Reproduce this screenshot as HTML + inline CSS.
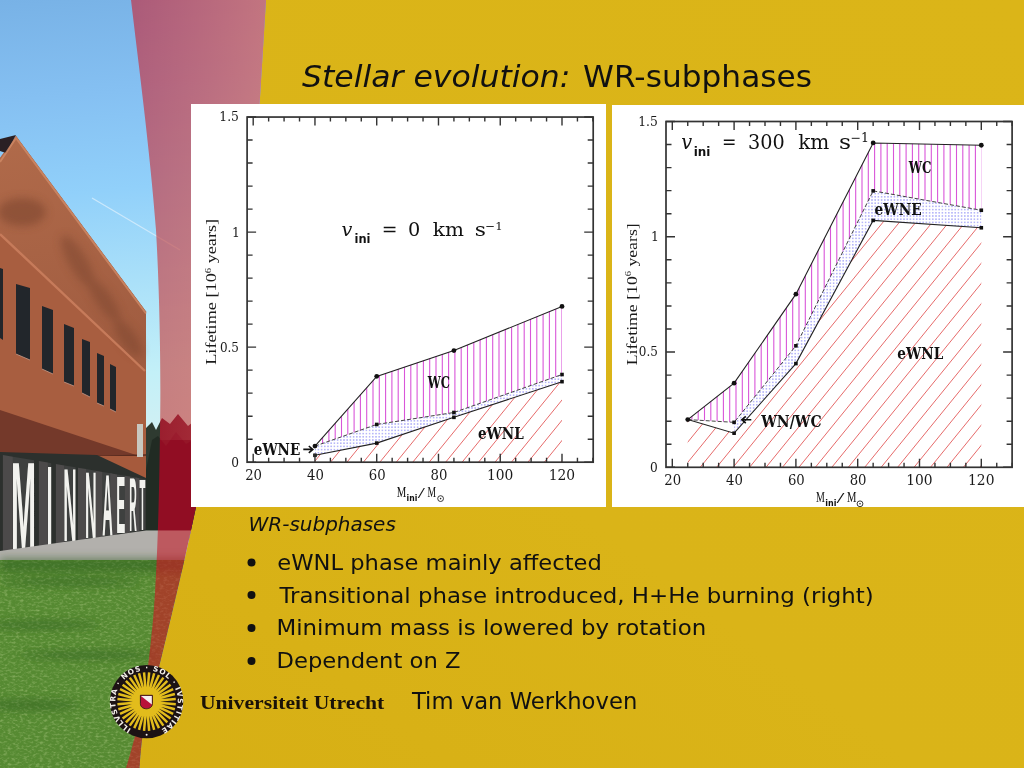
<!DOCTYPE html>
<html><head><meta charset="utf-8"><style>
html,body{margin:0;padding:0;background:#dab418;}
body{width:1024px;height:768px;overflow:hidden;position:relative;}
svg{position:absolute;left:0;top:0;}
.tl{font-family:"Liberation Serif",serif;font-size:13px;fill:#222;}
</style></head><body>
<svg width="1024" height="768" viewBox="0 0 1024 768">
<defs>
  <linearGradient id="bg" x1="0" y1="1" x2="1" y2="0">
    <stop offset="0" stop-color="#d6ae14"/><stop offset="0.45" stop-color="#dab418"/><stop offset="1" stop-color="#dbb518"/>
  </linearGradient>
  <linearGradient id="sky" gradientUnits="userSpaceOnUse" x1="0" y1="0" x2="40" y2="440">
    <stop offset="0" stop-color="#78b2e6"/><stop offset="0.23" stop-color="#85c0f2"/><stop offset="0.45" stop-color="#91d0fa"/><stop offset="0.87" stop-color="#c3f0f8"/><stop offset="1" stop-color="#d0f0f4"/>
  </linearGradient>
  <linearGradient id="facade" gradientUnits="userSpaceOnUse" x1="0" y1="140" x2="40" y2="370">
    <stop offset="0" stop-color="#b06a4a"/><stop offset="1" stop-color="#a05c40"/>
  </linearGradient>
  <linearGradient id="bandsky" gradientUnits="userSpaceOnUse" x1="135" y1="0" x2="266" y2="0">
    <stop offset="0" stop-color="#f0a090" stop-opacity="0"/><stop offset="1" stop-color="#f2aa8c" stop-opacity="0.32"/>
  </linearGradient>
  <filter id="blur3" x="-20%" y="-20%" width="140%" height="140%"><feGaussianBlur stdDeviation="4"/></filter>
  <filter id="grassnoise" x="0" y="0" width="100%" height="100%">
    <feTurbulence type="fractalNoise" baseFrequency="0.25 0.5" numOctaves="2" seed="3"/>
    <feColorMatrix type="matrix" values="0 0 0 0 0.52  0 0 0 0 0.68  0 0 0 0 0.3  0 0 0 2.0 -0.9"/>
  </filter>
  <pattern id="dots" patternUnits="userSpaceOnUse" width="3.2" height="3.2">
    <rect x="1" y="1" width="1.2" height="1.2" fill="#6a6af4" opacity="0.85"/>
  </pattern>
  <clipPath id="photoclip"><path d="M0 0 L266 0 L259.6 104 L196 507 C172 620 150 700 142 740 C141 748 140.5 755 139.5 768 L0 768Z"/></clipPath>
  <clipPath id="bandclip"><path d=" M131 0 C138 60 150 150 156 230 C160 300 161 380 160 430 C159 520 156 600 151 640 C146 690 138 730 126 768 L139.5 768 C140.5 755 141 748 142 740 C150 700 172 620 196 507 L259.6 104 L266 0 Z "/></clipPath>
  <filter id="tint" color-interpolation-filters="sRGB">
    <feColorMatrix type="matrix" values="0.3 0 0 0 0.53  0 0.57 0 0 -0.045  0 0 0.44 0 0.075  0 0 0 1 0"/>
  </filter>
</defs>
<rect width="1024" height="768" fill="url(#bg)"/>
<g clip-path="url(#photoclip)">
<g id="photo">
  <rect x="0" y="0" width="280" height="768" fill="url(#sky)"/>
  <path d="M92 198 L180 250" stroke="#d8eefc" stroke-width="1.3" opacity="0.8"/>
  <!-- trees behind -->
  <path d="M140 450 L146 428 L152 422 L156 430 L162 418 L170 424 L178 414 L188 426 L198 418 L210 428 L230 420 L280 426 L280 540 L140 540Z" fill="#2e3a30"/>
  <path d="M146 470 L152 440 L158 436 L166 446 L176 432 L186 444 L200 436 L280 450 L280 530 L146 530Z" fill="#1e2820" opacity="0.8"/>
  <!-- building facade -->
  <polygon points="0,158 16,136 146,311.5 146,462 0,418" fill="#a85e40"/>
  <polygon points="0,158 16,136 146,311.5 146,371 0,233" fill="url(#facade)"/>
  <g filter="url(#blur3)" opacity="0.5">
    <ellipse cx="22" cy="212" rx="24" ry="14" fill="#74402c"/>
    <ellipse cx="78" cy="262" rx="9" ry="30" transform="rotate(-30 78 262)" fill="#7a442e"/>
    <ellipse cx="104" cy="300" rx="8" ry="26" transform="rotate(-35 104 300)" fill="#7a442e"/>
    <ellipse cx="128" cy="338" rx="8" ry="22" transform="rotate(-35 128 338)" fill="#7a442e"/>
  </g>
  <polygon points="0,139 16,135 6,153 0,151" fill="#2a2024"/>
  <path d="M0 162 L16 138 L146 313.5" stroke="#d08a66" stroke-width="2" fill="none" opacity="0.8"/>
  <path d="M0 234 L145 371" stroke="#cc8060" stroke-width="2.4" opacity="0.85"/>
  <!-- windows -->
  <g fill="#22262b">
    <polygon points="16,284 30,288 30,360 16,354"/>
    <polygon points="42,306 53,310 53,374 42,369"/>
    <polygon points="64,324 74,328 74,386 64,382"/>
    <polygon points="82,339 90,342 90,397 82,393"/>
    <polygon points="97,353 104,356 104,406 97,403"/>
    <polygon points="110,364 116,367 116,412 110,409"/>
    <polygon points="0,268 3,269 3,340 0,338"/>
  </g>
  <g stroke="#c89a88" stroke-width="1" opacity="0.8">
    <path d="M16 354 L30 360 M42 369 L53 374 M64 382 L74 386 M82 393 L90 397 M97 403 L104 406 M110 409 L116 412"/>
  </g>
  <!-- soffit -->
  <polygon points="0,410 136,455 120,458 97,459 0,457" fill="#74392a"/>
  <path d="M97 456.5 L146 455" stroke="#5a2c20" stroke-width="1.5"/>
  <polygon points="97,456 146,456 146,481 97,473" fill="#a65a3c"/>
  <rect x="137" y="424" width="6" height="33" fill="#c8c8c0"/>
  <!-- columns area -->
  <polygon points="0,452 97,455 146,478 146,532 0,554" fill="#2c302d"/>

  <polygon points="12.9,456.7 34.0,460.3 34.0,547.0 12.9,550.4" fill="#3e403f"/>
<polygon points="2.9,455.0 12.9,456.7 12.9,550.9 2.9,552.9" fill="#4c4a4a"/>
<polygon points="47.9,462.6 51.2,463.2 51.2,544.3 47.9,544.8" fill="#3e403f"/>
<polygon points="38.9,461.1 47.9,462.6 47.9,545.3 38.9,547.2" fill="#4c4a4a"/>
<polygon points="64.4,465.4 75.6,467.3 75.6,540.5 64.4,542.2" fill="#3e403f"/>
<polygon points="55.9,464.0 64.4,465.4 64.4,542.7 55.9,544.6" fill="#4c4a4a"/>
<polygon points="86.0,469.1 95.7,470.8 95.7,537.3 86.0,538.8" fill="#3e403f"/>
<polygon points="78.0,467.8 86.0,469.1 86.0,539.3 78.0,541.1" fill="#4c4a4a"/>
<polygon points="102.5,471.9 112.3,473.6 112.3,534.7 102.5,536.2" fill="#3e403f"/>
<polygon points="95.5,470.7 102.5,471.9 102.5,536.7 95.5,538.3" fill="#4c4a4a"/>
<polygon points="117.2,474.4 125.0,475.7 125.0,532.6 117.2,533.9" fill="#3e403f"/>
<polygon points="110.2,473.2 117.2,474.4 117.2,534.4 110.2,536.0" fill="#4c4a4a"/>
<polygon points="130.0,476.6 136.7,477.7 136.7,530.8 130.0,531.9" fill="#3e403f"/>
<polygon points="125.0,475.7 130.0,476.6 130.0,532.4 125.0,533.6" fill="#4c4a4a"/>
<polygon points="139.6,478.2 145.5,479.2 145.5,529.4 139.6,530.3" fill="#3e403f"/>
<polygon points="135.6,477.5 139.6,478.2 139.6,530.8 135.6,532.0" fill="#4c4a4a"/>
<text x="10.98" y="548.69" font-family="'Liberation Sans',sans-serif" font-weight="bold" font-size="125.1" fill="#f2f2ee" textLength="24.99" lengthAdjust="spacingAndGlyphs">M</text>
<text x="46.54" y="544.57" font-family="'Liberation Sans',sans-serif" font-weight="bold" font-size="113.5" fill="#f2f2ee" textLength="6.12" lengthAdjust="spacingAndGlyphs">I</text>
<text x="63.33" y="541.34" font-family="'Liberation Sans',sans-serif" font-weight="bold" font-size="104.4" fill="#f2f2ee" textLength="13.40" lengthAdjust="spacingAndGlyphs">N</text>
<text x="84.98" y="538.04" font-family="'Liberation Sans',sans-serif" font-weight="bold" font-size="95.1" fill="#f2f2ee" textLength="11.68" lengthAdjust="spacingAndGlyphs">N</text>
<text x="102.17" y="535.43" font-family="'Liberation Sans',sans-serif" font-weight="bold" font-size="87.7" fill="#f2f2ee" textLength="10.52" lengthAdjust="spacingAndGlyphs">A</text>
<text x="116.37" y="533.26" font-family="'Liberation Sans',sans-serif" font-weight="bold" font-size="81.6" fill="#f2f2ee" textLength="9.03" lengthAdjust="spacingAndGlyphs">E</text>
<text x="129.32" y="531.33" font-family="'Liberation Sans',sans-serif" font-weight="bold" font-size="76.1" fill="#f2f2ee" textLength="7.52" lengthAdjust="spacingAndGlyphs">R</text>
<text x="139.60" y="529.87" font-family="'Liberation Sans',sans-serif" font-weight="bold" font-size="72.0" fill="#f2f2ee" textLength="5.90" lengthAdjust="spacingAndGlyphs">T</text>
  <!-- pavement -->
  <polygon points="0,551 146,530.5 280,530.5 280,562 0,562" fill="#b2b0ac"/>
  <!-- grass -->
  <rect x="0" y="560" width="280" height="208" fill="#568a32"/>
  <rect x="0" y="560" width="280" height="208" filter="url(#grassnoise)" opacity="0.5"/>
  <g filter="url(#blur3)" opacity="0.5" fill="#2c5a1c">
    <rect x="0" y="558" width="280" height="14"/>
    <ellipse cx="70" cy="582" rx="70" ry="4"/>
    <ellipse cx="40" cy="625" rx="60" ry="4"/>
    <ellipse cx="90" cy="655" rx="70" ry="4"/>
    <ellipse cx="30" cy="705" rx="50" ry="5"/>
  </g>
</g>
</g>
<g clip-path="url(#bandclip)"><use href="#photo" filter="url(#tint)"/><rect x="120" y="0" width="150" height="440" fill="url(#bandsky)"/></g>
<!-- chart panels -->
<rect x="191" y="104" width="415" height="403" fill="#fff"/>
<rect x="612" y="105" width="412" height="402" fill="#fff"/>
<defs>
<clipPath id="L_wc"><polygon points="314.96,446.09 376.72,376.37 453.92,350.6 562,306.42 562,374.53 453.92,412.5 376.72,424.46 314.96,446.09"/></clipPath>
<clipPath id="L_ne"><polygon points="314.96,446.09 376.72,424.46 453.92,412.5 562,374.53 562,381.66 453.92,417.33 376.72,443.1 314.96,455.3"/></clipPath>
<clipPath id="L_nl"><polygon points="314.96,455.3 376.72,443.1 453.92,417.33 562,381.66 562,462.2 314.96,462.2"/></clipPath>
</defs>
<polygon points="314.96,446.09 376.72,424.46 453.92,412.5 562,374.53 562,381.66 453.92,417.33 376.72,443.1 314.96,455.3" fill="url(#dots)" />
<path d="M310 117.05V462.2M316.3 117.05V462.2M322.6 117.05V462.2M328.9 117.05V462.2M335.2 117.05V462.2M341.5 117.05V462.2M347.8 117.05V462.2M354.1 117.05V462.2M360.4 117.05V462.2M366.7 117.05V462.2M373 117.05V462.2M379.3 117.05V462.2M385.6 117.05V462.2M391.9 117.05V462.2M398.2 117.05V462.2M404.5 117.05V462.2M410.8 117.05V462.2M417.1 117.05V462.2M423.4 117.05V462.2M429.7 117.05V462.2M436 117.05V462.2M442.3 117.05V462.2M448.6 117.05V462.2M454.9 117.05V462.2M461.2 117.05V462.2M467.5 117.05V462.2M473.8 117.05V462.2M480.1 117.05V462.2M486.4 117.05V462.2M492.7 117.05V462.2M499 117.05V462.2M505.3 117.05V462.2M511.6 117.05V462.2M517.9 117.05V462.2M524.2 117.05V462.2M530.5 117.05V462.2M536.8 117.05V462.2M543.1 117.05V462.2M549.4 117.05V462.2M555.7 117.05V462.2M562 117.05V462.2" stroke="#d955d9" stroke-width="1.1" clip-path="url(#L_wc)"/>
<path d="M-97.2 462.2L183.41 117.05M-80.75 462.2L199.86 117.05M-64.3 462.2L216.31 117.05M-47.85 462.2L232.76 117.05M-31.4 462.2L249.21 117.05M-14.95 462.2L265.66 117.05M1.5 462.2L282.11 117.05M17.95 462.2L298.56 117.05M34.4 462.2L315.01 117.05M50.85 462.2L331.46 117.05M67.3 462.2L347.91 117.05M83.75 462.2L364.36 117.05M100.2 462.2L380.81 117.05M116.65 462.2L397.26 117.05M133.1 462.2L413.71 117.05M149.55 462.2L430.16 117.05M166 462.2L446.61 117.05M182.45 462.2L463.06 117.05M198.9 462.2L479.51 117.05M215.35 462.2L495.96 117.05M231.8 462.2L512.41 117.05M248.25 462.2L528.86 117.05M264.7 462.2L545.31 117.05M281.15 462.2L561.76 117.05M297.6 462.2L578.21 117.05M314.05 462.2L594.66 117.05M330.5 462.2L611.11 117.05M346.95 462.2L627.56 117.05M363.4 462.2L644.01 117.05M379.85 462.2L660.46 117.05M396.3 462.2L676.91 117.05M412.75 462.2L693.36 117.05M429.2 462.2L709.81 117.05M445.65 462.2L726.26 117.05M462.1 462.2L742.71 117.05M478.55 462.2L759.16 117.05M495 462.2L775.61 117.05M511.45 462.2L792.06 117.05M527.9 462.2L808.51 117.05M544.35 462.2L824.96 117.05M560.8 462.2L841.41 117.05" stroke="#e66a6a" stroke-width="1" clip-path="url(#L_nl)"/>
<polyline points="314.96,446.09 376.72,376.37 453.92,350.6 562,306.42" fill="none" stroke="#222" stroke-width="1.1"/>
<polyline points="314.96,446.09 376.72,424.46 453.92,412.5 562,374.53" fill="none" stroke="#444" stroke-width="1" stroke-dasharray="4 2"/>
<polyline points="314.96,455.3 376.72,443.1 453.92,417.33 562,381.66" fill="none" stroke="#222" stroke-width="1.1"/>
<circle cx="314.96" cy="446.09" r="2.4" fill="#111"/>
<circle cx="376.72" cy="376.37" r="2.4" fill="#111"/>
<circle cx="453.92" cy="350.6" r="2.4" fill="#111"/>
<circle cx="562" cy="306.42" r="2.4" fill="#111"/>
<rect x="374.92" y="422.66" width="3.6" height="3.6" fill="#111"/>
<rect x="452.12" y="410.7" width="3.6" height="3.6" fill="#111"/>
<rect x="560.2" y="372.73" width="3.6" height="3.6" fill="#111"/>
<rect x="313.16" y="453.5" width="3.6" height="3.6" fill="#111"/>
<rect x="374.92" y="441.3" width="3.6" height="3.6" fill="#111"/>
<rect x="452.12" y="415.53" width="3.6" height="3.6" fill="#111"/>
<rect x="560.2" y="379.86" width="3.6" height="3.6" fill="#111"/>
<rect x="247.1" y="117.05" width="346.1" height="345.15" fill="none" stroke="#333" stroke-width="1.7"/>
<path d="M253.2 462.2v-8.5M253.2 117.05v8.5M268.64 462.2v-4.5M268.64 117.05v4.5M284.08 462.2v-4.5M284.08 117.05v4.5M299.52 462.2v-4.5M299.52 117.05v4.5M314.96 462.2v-8.5M314.96 117.05v8.5M330.4 462.2v-4.5M330.4 117.05v4.5M345.84 462.2v-4.5M345.84 117.05v4.5M361.28 462.2v-4.5M361.28 117.05v4.5M376.72 462.2v-8.5M376.72 117.05v8.5M392.16 462.2v-4.5M392.16 117.05v4.5M407.6 462.2v-4.5M407.6 117.05v4.5M423.04 462.2v-4.5M423.04 117.05v4.5M438.48 462.2v-8.5M438.48 117.05v8.5M453.92 462.2v-4.5M453.92 117.05v4.5M469.36 462.2v-4.5M469.36 117.05v4.5M484.8 462.2v-4.5M484.8 117.05v4.5M500.24 462.2v-8.5M500.24 117.05v8.5M515.68 462.2v-4.5M515.68 117.05v4.5M531.12 462.2v-4.5M531.12 117.05v4.5M546.56 462.2v-4.5M546.56 117.05v4.5M562 462.2v-8.5M562 117.05v8.5M577.44 462.2v-4.5M577.44 117.05v4.5M592.88 462.2v-4.5M592.88 117.05v4.5M247.1 462.2h9M593.2 462.2h-9M247.1 439.19h5.5M593.2 439.19h-5.5M247.1 416.18h5.5M593.2 416.18h-5.5M247.1 393.17h5.5M593.2 393.17h-5.5M247.1 370.16h5.5M593.2 370.16h-5.5M247.1 347.15h9M593.2 347.15h-9M247.1 324.14h5.5M593.2 324.14h-5.5M247.1 301.13h5.5M593.2 301.13h-5.5M247.1 278.12h5.5M593.2 278.12h-5.5M247.1 255.11h5.5M593.2 255.11h-5.5M247.1 232.1h9M593.2 232.1h-9M247.1 209.09h5.5M593.2 209.09h-5.5M247.1 186.08h5.5M593.2 186.08h-5.5M247.1 163.07h5.5M593.2 163.07h-5.5M247.1 140.06h5.5M593.2 140.06h-5.5M247.1 117.05h9M593.2 117.05h-9" stroke="#333" stroke-width="1.4"/>
<text x="245.20" y="479.60" font-family="'DejaVu Serif','Liberation Serif',serif" font-weight="normal" font-style="normal" font-size="14.0" fill="#1a1a1a" textLength="16.86" lengthAdjust="spacingAndGlyphs">20</text>
<text x="306.96" y="479.60" font-family="'DejaVu Serif','Liberation Serif',serif" font-weight="normal" font-style="normal" font-size="14.0" fill="#1a1a1a" textLength="16.86" lengthAdjust="spacingAndGlyphs">40</text>
<text x="368.72" y="479.60" font-family="'DejaVu Serif','Liberation Serif',serif" font-weight="normal" font-style="normal" font-size="14.0" fill="#1a1a1a" textLength="16.86" lengthAdjust="spacingAndGlyphs">60</text>
<text x="430.48" y="479.60" font-family="'DejaVu Serif','Liberation Serif',serif" font-weight="normal" font-style="normal" font-size="14.0" fill="#1a1a1a" textLength="16.86" lengthAdjust="spacingAndGlyphs">80</text>
<text x="487.00" y="479.60" font-family="'DejaVu Serif','Liberation Serif',serif" font-weight="normal" font-style="normal" font-size="14.0" fill="#1a1a1a" textLength="26.38" lengthAdjust="spacingAndGlyphs">100</text>
<text x="548.76" y="479.60" font-family="'DejaVu Serif','Liberation Serif',serif" font-weight="normal" font-style="normal" font-size="14.0" fill="#1a1a1a" textLength="26.38" lengthAdjust="spacingAndGlyphs">120</text>
<text x="231.20" y="466.60" font-family="'DejaVu Serif','Liberation Serif',serif" font-weight="normal" font-style="normal" font-size="13.0" fill="#1a1a1a" textLength="7.75" lengthAdjust="spacingAndGlyphs">0</text>
<text x="219.90" y="351.55" font-family="'DejaVu Serif','Liberation Serif',serif" font-weight="normal" font-style="normal" font-size="13.0" fill="#1a1a1a" textLength="19.05" lengthAdjust="spacingAndGlyphs">0.5</text>
<text x="232.05" y="236.50" font-family="'DejaVu Serif','Liberation Serif',serif" font-weight="normal" font-style="normal" font-size="13.0" fill="#1a1a1a" textLength="7.86" lengthAdjust="spacingAndGlyphs">1</text>
<text x="219.35" y="121.45" font-family="'DejaVu Serif','Liberation Serif',serif" font-weight="normal" font-style="normal" font-size="13.0" fill="#1a1a1a" textLength="19.61" lengthAdjust="spacingAndGlyphs">1.5</text>
<defs>
<clipPath id="R_wc"><polygon points="687.75,419.58 734.1,383.16 795.9,294.17 873.15,142.94 981.3,145.24 981.3,210.26 873.15,190.89 795.9,345.81 734.1,422.35 687.75,419.58"/></clipPath>
<clipPath id="R_ne"><polygon points="734.1,422.35 795.9,345.81 873.15,190.89 981.3,210.26 981.3,227.78 873.15,220.4 795.9,363.56 734.1,433.18"/></clipPath>
<clipPath id="R_nl"><polygon points="687.75,419.58 734.1,433.18 795.9,363.56 873.15,220.4 981.3,227.78 981.3,467.3 687.75,467.3"/></clipPath>
</defs>
<polygon points="734.1,422.35 795.9,345.81 873.15,190.89 981.3,210.26 981.3,227.78 873.15,220.4 795.9,363.56 734.1,433.18" fill="url(#dots)" />
<path d="M685.6 121.5V467.3M691.9 121.5V467.3M698.2 121.5V467.3M704.5 121.5V467.3M710.8 121.5V467.3M717.1 121.5V467.3M723.4 121.5V467.3M729.7 121.5V467.3M736 121.5V467.3M742.3 121.5V467.3M748.6 121.5V467.3M754.9 121.5V467.3M761.2 121.5V467.3M767.5 121.5V467.3M773.8 121.5V467.3M780.1 121.5V467.3M786.4 121.5V467.3M792.7 121.5V467.3M799 121.5V467.3M805.3 121.5V467.3M811.6 121.5V467.3M817.9 121.5V467.3M824.2 121.5V467.3M830.5 121.5V467.3M836.8 121.5V467.3M843.1 121.5V467.3M849.4 121.5V467.3M855.7 121.5V467.3M862 121.5V467.3M868.3 121.5V467.3M874.6 121.5V467.3M880.9 121.5V467.3M887.2 121.5V467.3M893.5 121.5V467.3M899.8 121.5V467.3M906.1 121.5V467.3M912.4 121.5V467.3M918.7 121.5V467.3M925 121.5V467.3M931.3 121.5V467.3M937.6 121.5V467.3M943.9 121.5V467.3M950.2 121.5V467.3M956.5 121.5V467.3M962.8 121.5V467.3M969.1 121.5V467.3M975.4 121.5V467.3M981.7 121.5V467.3" stroke="#d955d9" stroke-width="1.1" clip-path="url(#R_wc)"/>
<path d="M272.5 467.3L553.64 121.5M288.95 467.3L570.09 121.5M305.4 467.3L586.54 121.5M321.85 467.3L602.99 121.5M338.3 467.3L619.44 121.5M354.75 467.3L635.89 121.5M371.2 467.3L652.34 121.5M387.65 467.3L668.79 121.5M404.1 467.3L685.24 121.5M420.55 467.3L701.69 121.5M437 467.3L718.14 121.5M453.45 467.3L734.59 121.5M469.9 467.3L751.04 121.5M486.35 467.3L767.49 121.5M502.8 467.3L783.94 121.5M519.25 467.3L800.39 121.5M535.7 467.3L816.84 121.5M552.15 467.3L833.29 121.5M568.6 467.3L849.74 121.5M585.05 467.3L866.19 121.5M601.5 467.3L882.64 121.5M617.95 467.3L899.09 121.5M634.4 467.3L915.54 121.5M650.85 467.3L931.99 121.5M667.3 467.3L948.44 121.5M683.75 467.3L964.89 121.5M700.2 467.3L981.34 121.5M716.65 467.3L997.79 121.5M733.1 467.3L1014.24 121.5M749.55 467.3L1030.69 121.5M766 467.3L1047.14 121.5M782.45 467.3L1063.59 121.5M798.9 467.3L1080.04 121.5M815.35 467.3L1096.49 121.5M831.8 467.3L1112.94 121.5M848.25 467.3L1129.39 121.5M864.7 467.3L1145.84 121.5M881.15 467.3L1162.29 121.5M897.6 467.3L1178.74 121.5M914.05 467.3L1195.19 121.5M930.5 467.3L1211.64 121.5M946.95 467.3L1228.09 121.5M963.4 467.3L1244.54 121.5M979.85 467.3L1260.99 121.5" stroke="#e66a6a" stroke-width="1" clip-path="url(#R_nl)"/>
<polyline points="687.75,419.58 734.1,383.16 795.9,294.17 873.15,142.94 981.3,145.24" fill="none" stroke="#222" stroke-width="1.1"/>
<polyline points="687.75,419.58 734.1,422.35 795.9,345.81 873.15,190.89 981.3,210.26" fill="none" stroke="#444" stroke-width="1" stroke-dasharray="4 2"/>
<polyline points="687.75,419.58 734.1,433.18 795.9,363.56 873.15,220.4 981.3,227.78" fill="none" stroke="#222" stroke-width="1.1"/>
<circle cx="687.75" cy="419.58" r="2.4" fill="#111"/>
<circle cx="734.1" cy="383.16" r="2.4" fill="#111"/>
<circle cx="795.9" cy="294.17" r="2.4" fill="#111"/>
<circle cx="873.15" cy="142.94" r="2.4" fill="#111"/>
<circle cx="981.3" cy="145.24" r="2.4" fill="#111"/>
<rect x="732.3" y="420.55" width="3.6" height="3.6" fill="#111"/>
<rect x="794.1" y="344.01" width="3.6" height="3.6" fill="#111"/>
<rect x="871.35" y="189.09" width="3.6" height="3.6" fill="#111"/>
<rect x="979.5" y="208.46" width="3.6" height="3.6" fill="#111"/>
<rect x="732.3" y="431.38" width="3.6" height="3.6" fill="#111"/>
<rect x="794.1" y="361.76" width="3.6" height="3.6" fill="#111"/>
<rect x="871.35" y="218.6" width="3.6" height="3.6" fill="#111"/>
<rect x="979.5" y="225.98" width="3.6" height="3.6" fill="#111"/>
<rect x="666" y="121.5" width="346.1" height="345.8" fill="none" stroke="#333" stroke-width="1.7"/>
<path d="M672.3 467.3v-8.5M672.3 121.5v8.5M687.75 467.3v-4.5M687.75 121.5v4.5M703.2 467.3v-4.5M703.2 121.5v4.5M718.65 467.3v-4.5M718.65 121.5v4.5M734.1 467.3v-8.5M734.1 121.5v8.5M749.55 467.3v-4.5M749.55 121.5v4.5M765 467.3v-4.5M765 121.5v4.5M780.45 467.3v-4.5M780.45 121.5v4.5M795.9 467.3v-8.5M795.9 121.5v8.5M811.35 467.3v-4.5M811.35 121.5v4.5M826.8 467.3v-4.5M826.8 121.5v4.5M842.25 467.3v-4.5M842.25 121.5v4.5M857.7 467.3v-8.5M857.7 121.5v8.5M873.15 467.3v-4.5M873.15 121.5v4.5M888.6 467.3v-4.5M888.6 121.5v4.5M904.05 467.3v-4.5M904.05 121.5v4.5M919.5 467.3v-8.5M919.5 121.5v8.5M934.95 467.3v-4.5M934.95 121.5v4.5M950.4 467.3v-4.5M950.4 121.5v4.5M965.85 467.3v-4.5M965.85 121.5v4.5M981.3 467.3v-8.5M981.3 121.5v8.5M996.75 467.3v-4.5M996.75 121.5v4.5M1012.2 467.3v-4.5M1012.2 121.5v4.5M666 467.3h9M1012.1 467.3h-9M666 444.25h5.5M1012.1 444.25h-5.5M666 421.19h5.5M1012.1 421.19h-5.5M666 398.14h5.5M1012.1 398.14h-5.5M666 375.09h5.5M1012.1 375.09h-5.5M666 352.03h9M1012.1 352.03h-9M666 328.98h5.5M1012.1 328.98h-5.5M666 305.93h5.5M1012.1 305.93h-5.5M666 282.87h5.5M1012.1 282.87h-5.5M666 259.82h5.5M1012.1 259.82h-5.5M666 236.77h9M1012.1 236.77h-9M666 213.71h5.5M1012.1 213.71h-5.5M666 190.66h5.5M1012.1 190.66h-5.5M666 167.61h5.5M1012.1 167.61h-5.5M666 144.55h5.5M1012.1 144.55h-5.5M666 121.5h9M1012.1 121.5h-9" stroke="#333" stroke-width="1.4"/>
<text x="664.30" y="484.70" font-family="'DejaVu Serif','Liberation Serif',serif" font-weight="normal" font-style="normal" font-size="14.0" fill="#1a1a1a" textLength="16.86" lengthAdjust="spacingAndGlyphs">20</text>
<text x="726.10" y="484.70" font-family="'DejaVu Serif','Liberation Serif',serif" font-weight="normal" font-style="normal" font-size="14.0" fill="#1a1a1a" textLength="16.86" lengthAdjust="spacingAndGlyphs">40</text>
<text x="787.90" y="484.70" font-family="'DejaVu Serif','Liberation Serif',serif" font-weight="normal" font-style="normal" font-size="14.0" fill="#1a1a1a" textLength="16.86" lengthAdjust="spacingAndGlyphs">60</text>
<text x="849.70" y="484.70" font-family="'DejaVu Serif','Liberation Serif',serif" font-weight="normal" font-style="normal" font-size="14.0" fill="#1a1a1a" textLength="16.86" lengthAdjust="spacingAndGlyphs">80</text>
<text x="906.26" y="484.70" font-family="'DejaVu Serif','Liberation Serif',serif" font-weight="normal" font-style="normal" font-size="14.0" fill="#1a1a1a" textLength="26.38" lengthAdjust="spacingAndGlyphs">100</text>
<text x="968.06" y="484.70" font-family="'DejaVu Serif','Liberation Serif',serif" font-weight="normal" font-style="normal" font-size="14.0" fill="#1a1a1a" textLength="26.38" lengthAdjust="spacingAndGlyphs">120</text>
<text x="650.10" y="471.70" font-family="'DejaVu Serif','Liberation Serif',serif" font-weight="normal" font-style="normal" font-size="13.0" fill="#1a1a1a" textLength="7.75" lengthAdjust="spacingAndGlyphs">0</text>
<text x="638.80" y="356.43" font-family="'DejaVu Serif','Liberation Serif',serif" font-weight="normal" font-style="normal" font-size="13.0" fill="#1a1a1a" textLength="19.05" lengthAdjust="spacingAndGlyphs">0.5</text>
<text x="650.95" y="241.17" font-family="'DejaVu Serif','Liberation Serif',serif" font-weight="normal" font-style="normal" font-size="13.0" fill="#1a1a1a" textLength="7.86" lengthAdjust="spacingAndGlyphs">1</text>
<text x="638.25" y="125.90" font-family="'DejaVu Serif','Liberation Serif',serif" font-weight="normal" font-style="normal" font-size="13.0" fill="#1a1a1a" textLength="19.61" lengthAdjust="spacingAndGlyphs">1.5</text>
<text x="427.71" y="387.60" font-family="'DejaVu Serif','Liberation Serif',serif" font-weight="bold" font-style="normal" font-size="16.3" fill="#111" textLength="22.26" lengthAdjust="spacingAndGlyphs">WC</text>
<text x="478.00" y="438.90" font-family="'DejaVu Serif','Liberation Serif',serif" font-weight="bold" font-style="normal" font-size="16.6" fill="#111" textLength="45.73" lengthAdjust="spacingAndGlyphs">eWNL</text>
<text x="253.80" y="454.80" font-family="'DejaVu Serif','Liberation Serif',serif" font-weight="bold" font-style="normal" font-size="17.2" fill="#111" textLength="46.48" lengthAdjust="spacingAndGlyphs">eWNE</text>
<text x="908.63" y="173.40" font-family="'DejaVu Serif','Liberation Serif',serif" font-weight="bold" font-style="normal" font-size="16.3" fill="#111" textLength="22.74" lengthAdjust="spacingAndGlyphs">WC</text>
<text x="874.60" y="215.40" font-family="'DejaVu Serif','Liberation Serif',serif" font-weight="bold" font-style="normal" font-size="17.5" fill="#111" textLength="47.17" lengthAdjust="spacingAndGlyphs">eWNE</text>
<text x="897.30" y="358.70" font-family="'DejaVu Serif','Liberation Serif',serif" font-weight="bold" font-style="normal" font-size="17.5" fill="#111" textLength="45.94" lengthAdjust="spacingAndGlyphs">eWNL</text>
<text x="761.17" y="426.60" font-family="'DejaVu Serif','Liberation Serif',serif" font-weight="bold" font-style="normal" font-size="16.0" fill="#111" textLength="60.47" lengthAdjust="spacingAndGlyphs">WN/WC</text>
<text x="341.40" y="236.40" font-family="'DejaVu Serif','Liberation Serif',serif" font-weight="normal" font-style="italic" font-size="19" fill="#111" textLength="10.83" lengthAdjust="spacingAndGlyphs">v</text>
<text x="354.55" y="242.50" font-family="'DejaVu Sans','Liberation Sans',sans-serif" font-weight="bold" font-style="normal" font-size="12" fill="#111" textLength="15.96" lengthAdjust="spacingAndGlyphs">ini</text>
<text x="381.68" y="236.40" font-family="'DejaVu Serif','Liberation Serif',serif" font-weight="normal" font-style="normal" font-size="18.5" fill="#111" textLength="15.74" lengthAdjust="spacingAndGlyphs">=</text>
<text x="407.94" y="236.40" font-family="'DejaVu Serif','Liberation Serif',serif" font-weight="normal" font-style="normal" font-size="18.2" fill="#111" textLength="12.27" lengthAdjust="spacingAndGlyphs">0</text>
<text x="432.80" y="236.40" font-family="'DejaVu Serif','Liberation Serif',serif" font-weight="normal" font-style="normal" font-size="18.2" fill="#111" textLength="31.07" lengthAdjust="spacingAndGlyphs">km</text>
<text x="474.70" y="236.40" font-family="'DejaVu Serif','Liberation Serif',serif" font-weight="normal" font-style="normal" font-size="18.2" fill="#111" textLength="11.20" lengthAdjust="spacingAndGlyphs">s</text>
<text x="485.38" y="229.50" font-family="'DejaVu Serif','Liberation Serif',serif" font-weight="normal" font-style="normal" font-size="11.5" fill="#111" textLength="17.37" lengthAdjust="spacingAndGlyphs">−1</text>
<text x="681.30" y="149.20" font-family="'DejaVu Serif','Liberation Serif',serif" font-weight="normal" font-style="italic" font-size="20.5" fill="#111" textLength="10.91" lengthAdjust="spacingAndGlyphs">v</text>
<text x="693.68" y="155.50" font-family="'DejaVu Sans','Liberation Sans',sans-serif" font-weight="bold" font-style="normal" font-size="13" fill="#111" textLength="16.74" lengthAdjust="spacingAndGlyphs">ini</text>
<text x="721.93" y="149.20" font-family="'DejaVu Serif','Liberation Serif',serif" font-weight="normal" font-style="normal" font-size="19.5" fill="#111" textLength="14.45" lengthAdjust="spacingAndGlyphs">=</text>
<text x="748.06" y="149.20" font-family="'DejaVu Serif','Liberation Serif',serif" font-weight="normal" font-style="normal" font-size="20.5" fill="#111" textLength="36.72" lengthAdjust="spacingAndGlyphs">300</text>
<text x="798.20" y="149.20" font-family="'DejaVu Serif','Liberation Serif',serif" font-weight="normal" font-style="normal" font-size="20.5" fill="#111" textLength="31.23" lengthAdjust="spacingAndGlyphs">km</text>
<text x="839.06" y="149.20" font-family="'DejaVu Serif','Liberation Serif',serif" font-weight="normal" font-style="normal" font-size="20.5" fill="#111" textLength="12.04" lengthAdjust="spacingAndGlyphs">s</text>
<text x="850.50" y="141.50" font-family="'DejaVu Serif','Liberation Serif',serif" font-weight="normal" font-style="normal" font-size="12.5" fill="#111" textLength="18.46" lengthAdjust="spacingAndGlyphs">−1</text>
<text x="396.70" y="497.10" font-family="'Liberation Serif',serif" font-weight="normal" font-style="normal" font-size="15.5" fill="#111" textLength="9.55" lengthAdjust="spacingAndGlyphs">M</text>
<text x="406.60" y="501.00" font-family="'DejaVu Sans','Liberation Sans',sans-serif" font-weight="bold" font-style="normal" font-size="9" fill="#111" textLength="10.77" lengthAdjust="spacingAndGlyphs">ini</text>
<text x="417.80" y="497.60" font-family="'Liberation Serif',serif" font-weight="normal" font-style="normal" font-size="15.5" fill="#111" textLength="7.15" lengthAdjust="spacingAndGlyphs">/</text>
<text x="427.50" y="497.10" font-family="'Liberation Serif',serif" font-weight="normal" font-style="normal" font-size="15.5" fill="#111" textLength="8.56" lengthAdjust="spacingAndGlyphs">M</text>
<text x="816.00" y="502.40" font-family="'Liberation Serif',serif" font-weight="normal" font-style="normal" font-size="15.5" fill="#111" textLength="8.86" lengthAdjust="spacingAndGlyphs">M</text>
<text x="825.20" y="506.30" font-family="'DejaVu Sans','Liberation Sans',sans-serif" font-weight="bold" font-style="normal" font-size="9" fill="#111" textLength="11.18" lengthAdjust="spacingAndGlyphs">ini</text>
<text x="836.50" y="502.90" font-family="'Liberation Serif',serif" font-weight="normal" font-style="normal" font-size="15.5" fill="#111" textLength="7.92" lengthAdjust="spacingAndGlyphs">/</text>
<text x="847.00" y="502.40" font-family="'Liberation Serif',serif" font-weight="normal" font-style="normal" font-size="15.5" fill="#111" textLength="9.45" lengthAdjust="spacingAndGlyphs">M</text>
<path d="M303.3 449.4h9M308.8 446l4 3.4-4 3.4" stroke="#111" stroke-width="1.6" fill="none"/>
<path d="M751.3 419.8h-9M745.8 416.4l-4 3.4 4 3.4" stroke="#111" stroke-width="1.6" fill="none"/>
<circle cx="440.6" cy="498.6" r="2.9" fill="none" stroke="#222" stroke-width="0.9"/><circle cx="440.6" cy="498.6" r="0.8" fill="#222"/>
<circle cx="860" cy="503.8" r="2.9" fill="none" stroke="#222" stroke-width="0.9"/><circle cx="860" cy="503.8" r="0.8" fill="#222"/>
<text font-family="'Liberation Serif',serif" font-weight="normal" fill="#1a1a1a" font-size="14.5" text-anchor="middle" transform="translate(216.0 291.8) rotate(-90)" textLength="146" lengthAdjust="spacingAndGlyphs">Lifetime [10<tspan font-size="8.5" dy="-5.5">6</tspan><tspan dy="5.5"> years]</tspan></text>
<text font-family="'Liberation Serif',serif" font-weight="normal" fill="#1a1a1a" font-size="14.5" text-anchor="middle" transform="translate(636.8 294.3) rotate(-90)" textLength="142" lengthAdjust="spacingAndGlyphs">Lifetime [10<tspan font-size="8.5" dy="-5.5">6</tspan><tspan dy="5.5"> years]</tspan></text>
<g transform="translate(146.6 701.6)">
<circle r="36.7" fill="#1c1214"/>
<path d="M11.95 1.05L29.19 2.55M11.59 3.11L28.30 7.58M10.88 5.07L26.55 12.38M9.83 6.88L24.00 16.81M8.49 8.49L20.72 20.72M6.88 9.83L16.81 24.00M5.07 10.88L12.38 26.55M3.11 11.59L7.58 28.30M1.05 11.95L2.55 29.19M-1.05 11.95L-2.55 29.19M-3.11 11.59L-7.58 28.30M-5.07 10.88L-12.38 26.55M-6.88 9.83L-16.81 24.00M-8.49 8.49L-20.72 20.72M-9.83 6.88L-24.00 16.81M-10.88 5.07L-26.55 12.38M-11.59 3.11L-28.30 7.58M-11.95 1.05L-29.19 2.55M-11.95 -1.05L-29.19 -2.55M-11.59 -3.11L-28.30 -7.58M-10.88 -5.07L-26.55 -12.38M-9.83 -6.88L-24.00 -16.81M-8.49 -8.49L-20.72 -20.72M-6.88 -9.83L-16.81 -24.00M-5.07 -10.88L-12.38 -26.55M-3.11 -11.59L-7.58 -28.30M-1.05 -11.95L-2.55 -29.19M1.05 -11.95L2.55 -29.19M3.11 -11.59L7.58 -28.30M5.07 -10.88L12.38 -26.55M6.88 -9.83L16.81 -24.00M8.49 -8.49L20.72 -20.72M9.83 -6.88L24.00 -16.81M10.88 -5.07L26.55 -12.38M11.59 -3.11L28.30 -7.58M11.95 -1.05L29.19 -2.55" stroke="#e2bc1c" stroke-width="2.5"/>
<circle r="14.2" fill="#e2bc1c"/>
<path id="ringpath" d="M0 31.3 A31.3 31.3 0 1 1 0.01 31.3" fill="none"/>
<text font-family="'DejaVu Sans',sans-serif" font-weight="bold" font-size="7.4" fill="#f4f0ea" ><textPath href="#ringpath" startOffset="16" textLength="165" lengthAdjust="spacing">ILLVSTRA · NOS · SOL · IVSTITIAE</textPath></text>
<circle cx="0" cy="33.2" r="1" fill="#f4f0ea"/>
<path d="M-6.2 -6.3 H5.8 V2 C5.8 5.5 3 7 -0.2 7.2 C-3.5 7 -6.2 5.5 -6.2 2 Z" fill="#b8123a" stroke="#2a1a1a" stroke-width="0.9"/>
<path d="M-5.6 -5.7 H5.2 V3 Z" fill="#f4f0f0"/>
</g>
<text x="302.00" y="87.20" font-family="'DejaVu Sans','Liberation Sans',sans-serif" font-weight="normal" font-style="italic" font-size="30.4" fill="#111" textLength="268.32" lengthAdjust="spacingAndGlyphs">Stellar evolution:</text>
<text x="583.07" y="87.20" font-family="'DejaVu Sans','Liberation Sans',sans-serif" font-weight="normal" font-style="normal" font-size="30.4" fill="#111" textLength="228.98" lengthAdjust="spacingAndGlyphs">WR-subphases</text>
<text x="248.58" y="531.30" font-family="'DejaVu Sans','Liberation Sans',sans-serif" font-weight="normal" font-style="italic" font-size="19.6" fill="#111" textLength="147.23" lengthAdjust="spacingAndGlyphs">WR-subphases</text>
<text x="277.31" y="570.00" font-family="'DejaVu Sans','Liberation Sans',sans-serif" font-weight="normal" font-style="normal" font-size="20.8" fill="#111" textLength="324.49" lengthAdjust="spacingAndGlyphs">eWNL phase mainly affected</text>
<text x="279.50" y="602.50" font-family="'DejaVu Sans','Liberation Sans',sans-serif" font-weight="normal" font-style="normal" font-size="20.8" fill="#111" textLength="594.23" lengthAdjust="spacingAndGlyphs">Transitional phase introduced, H+He burning (right)</text>
<text x="276.40" y="635.10" font-family="'DejaVu Sans','Liberation Sans',sans-serif" font-weight="normal" font-style="normal" font-size="20.8" fill="#111" textLength="429.80" lengthAdjust="spacingAndGlyphs">Minimum mass is lowered by rotation</text>
<text x="276.52" y="668.10" font-family="'DejaVu Sans','Liberation Sans',sans-serif" font-weight="normal" font-style="normal" font-size="20.8" fill="#111" textLength="184.05" lengthAdjust="spacingAndGlyphs">Dependent on Z</text>
<text x="411.91" y="709.20" font-family="'DejaVu Sans','Liberation Sans',sans-serif" font-weight="normal" font-style="normal" font-size="22.4" fill="#111" textLength="225.39" lengthAdjust="spacingAndGlyphs">Tim van Werkhoven</text>
<text x="199.90" y="708.90" font-family="'Liberation Serif',serif" font-weight="bold" font-style="normal" font-size="18.3" fill="#1a1208" textLength="184.40" lengthAdjust="spacingAndGlyphs">Universiteit Utrecht</text>
<circle cx="251.5" cy="562.6" r="4" fill="#111"/>
<circle cx="251.5" cy="595.1" r="4" fill="#111"/>
<circle cx="251.5" cy="628.0" r="4" fill="#111"/>
<circle cx="251.5" cy="660.9" r="4" fill="#111"/>
</svg>
</body></html>
